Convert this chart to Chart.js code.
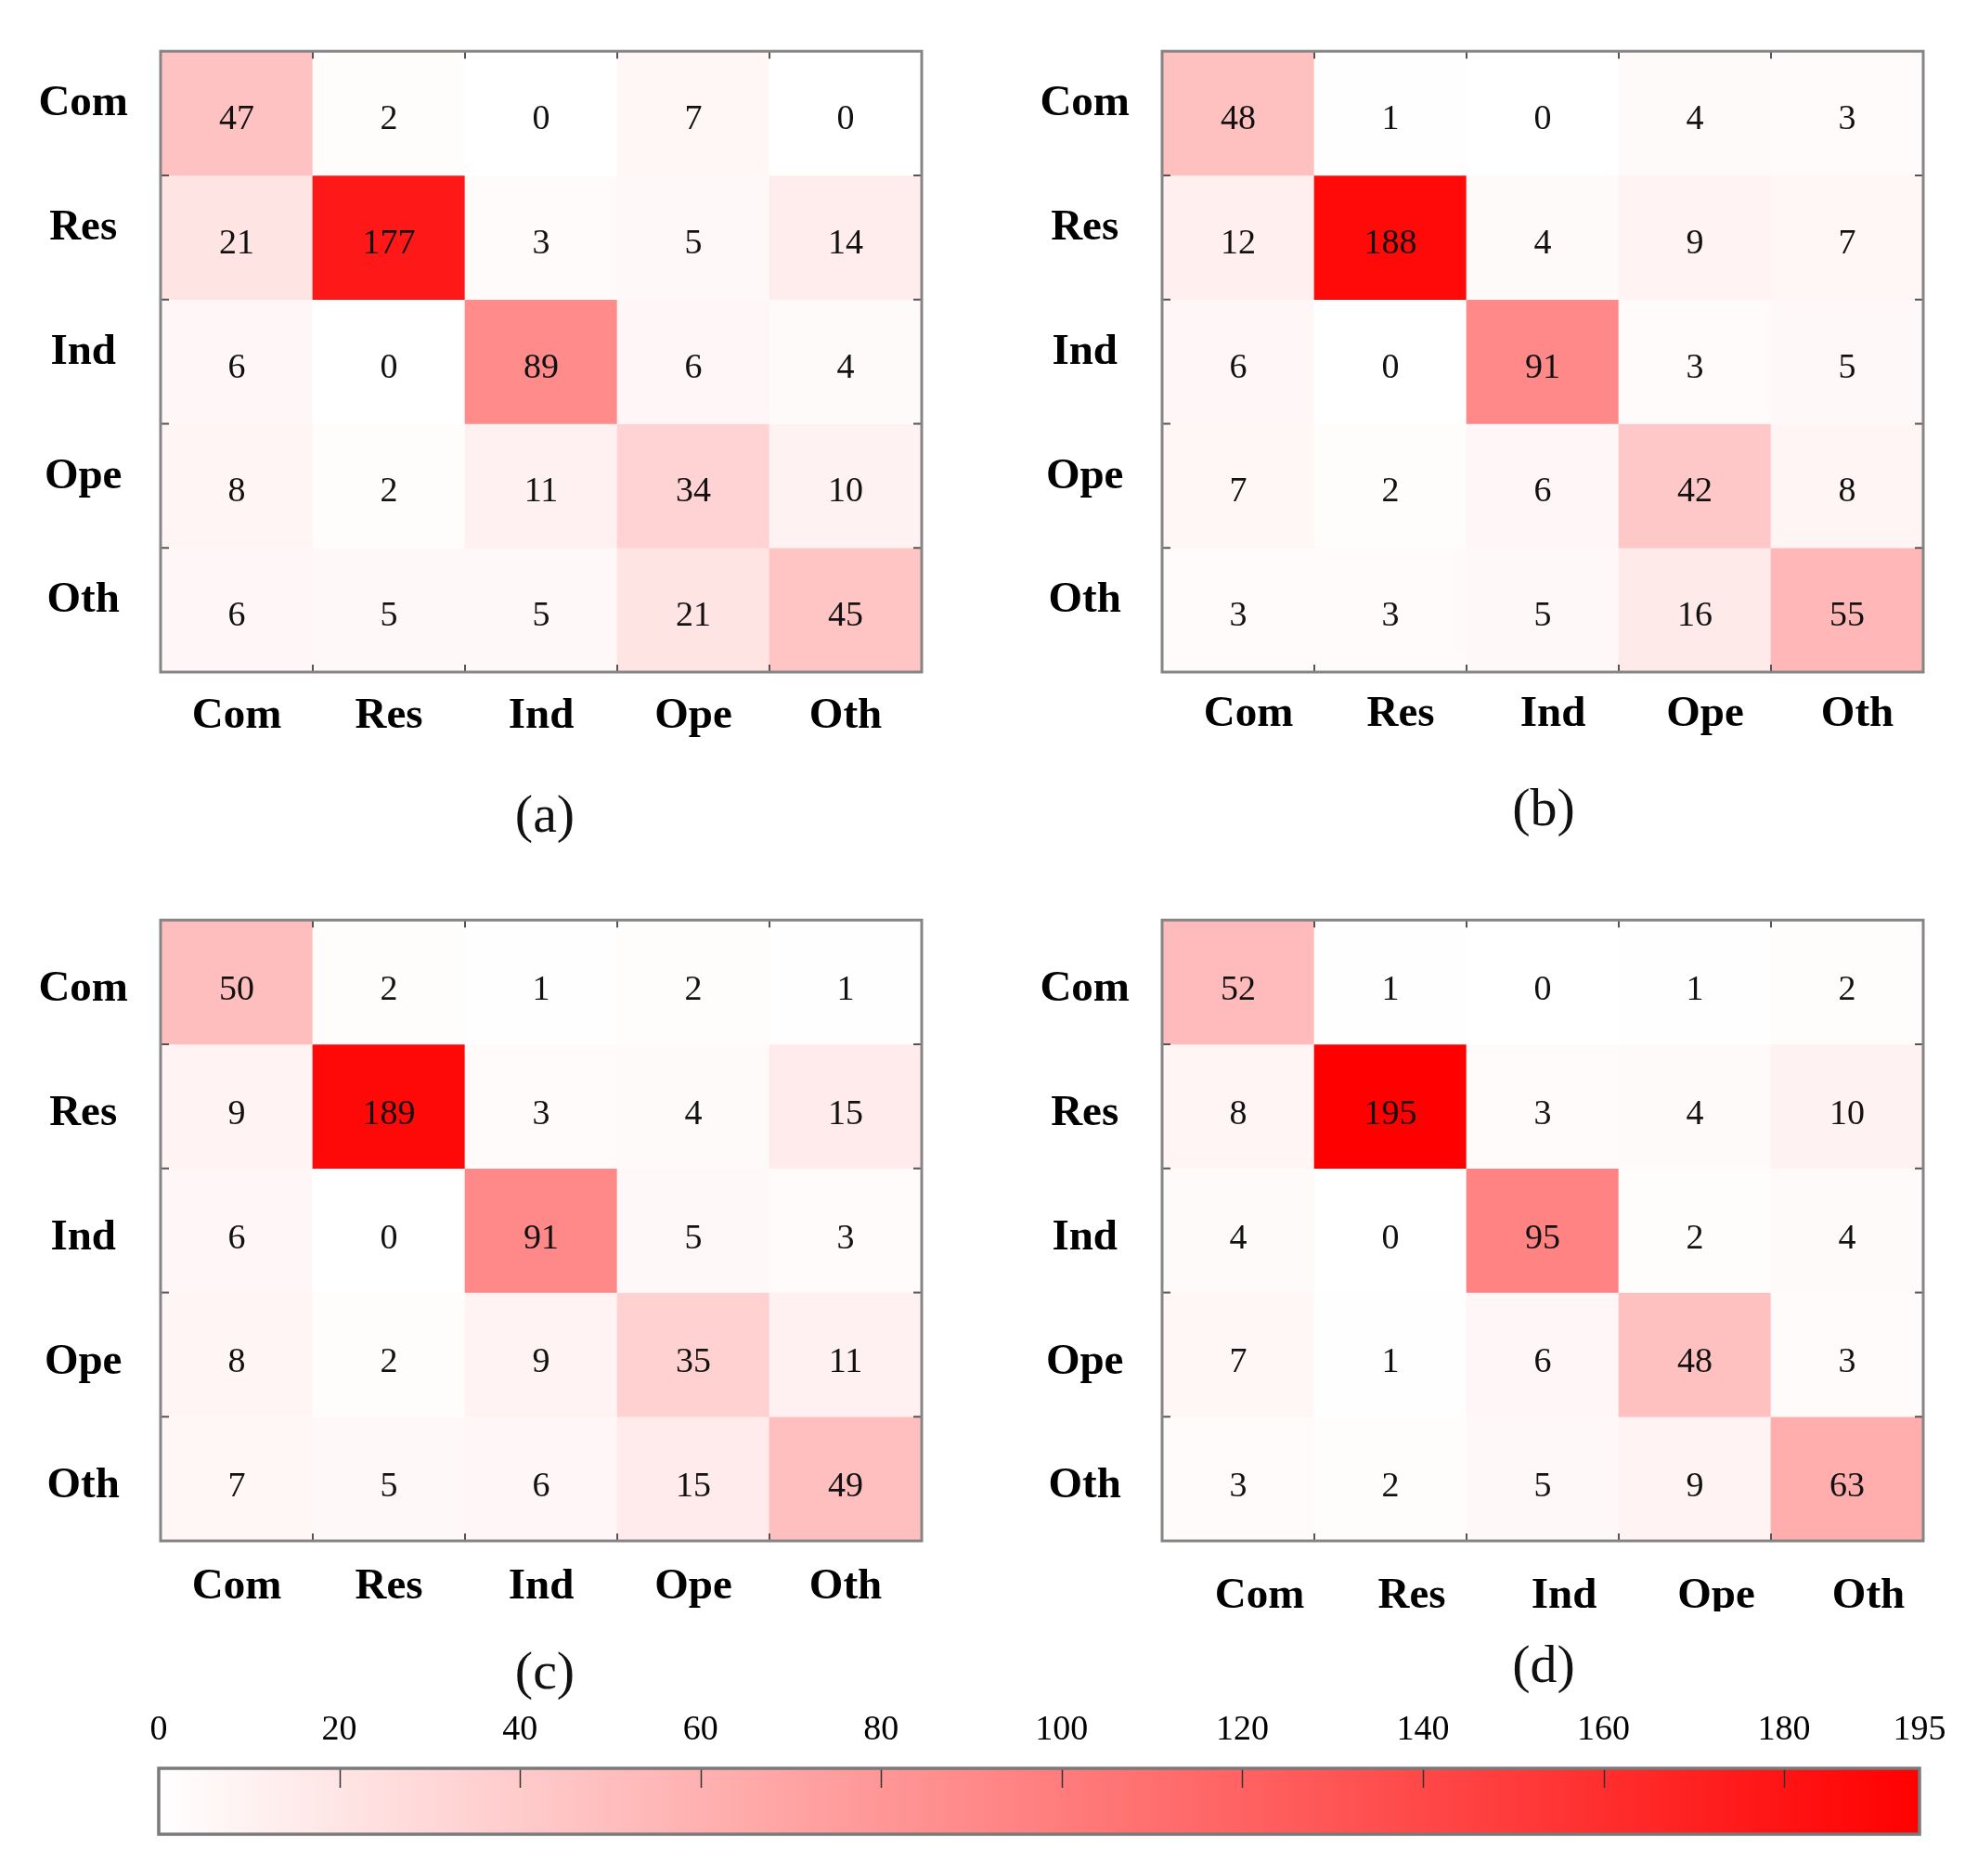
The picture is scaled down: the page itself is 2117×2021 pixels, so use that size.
<!DOCTYPE html>
<html>
<head>
<meta charset="utf-8">
<script src="https://cdn.jsdelivr.net/npm/chart.js@4.4.1/dist/chart.umd.min.js"></script>
<style>
body { margin: 0; background: #fff; width: 2117px; height: 2021px; position: relative; overflow: hidden; }
canvas { position: absolute; }
.tag { position: absolute; font-family: "Liberation Serif", serif; font-size: 58px; line-height: 1; transform: translate(-50%, -50%); color: #111; }
</style>
</head>
<body>
<canvas id="chartA" width="1030" height="800" style="left:0px;top:0px"></canvas>
<canvas id="chartB" width="1030" height="800" style="left:1079px;top:0px"></canvas>
<canvas id="chartC" width="1030" height="800" style="left:0px;top:936px"></canvas>
<canvas id="chartD" width="1030" height="800" style="left:1079px;top:936px"></canvas>
<canvas id="colorbar" width="2117" height="200" style="left:0px;top:1820px"></canvas>
<div class="tag" style="left:587px;top:877px">(a)</div>
<div class="tag" style="left:1663px;top:870px">(b)</div>
<div class="tag" style="left:587px;top:1800px">(c)</div>
<div class="tag" style="left:1663px;top:1793px">(d)</div>
<script>
var classLabels = ["Com", "Res", "Ind", "Ope", "Oth"];

// rows = true class (top to bottom), columns = predicted (left to right)
var matrixA = [
    [47, 2, 0, 7, 0],
    [21, 177, 3, 5, 14],
    [6, 0, 89, 6, 4],
    [8, 2, 11, 34, 10],
    [6, 5, 5, 21, 45]
];
var matrixB = [
    [48, 1, 0, 4, 3],
    [12, 188, 4, 9, 7],
    [6, 0, 91, 3, 5],
    [7, 2, 6, 42, 8],
    [3, 3, 5, 16, 55]
];
var matrixC = [
    [50, 2, 1, 2, 1],
    [9, 189, 3, 4, 15],
    [6, 0, 91, 5, 3],
    [8, 2, 9, 35, 11],
    [7, 5, 6, 15, 49]
];
var matrixD = [
    [52, 1, 0, 1, 2],
    [8, 195, 3, 4, 10],
    [4, 0, 95, 2, 4],
    [7, 1, 6, 48, 3],
    [3, 2, 5, 9, 63]
];

var scaleMax = 195;
var scaleTicks = [0, 20, 40, 60, 80, 100, 120, 140, 160, 180, 195];

var serif = "'Liberation Serif', 'Times New Roman', serif";

function cellColor(v) {
    var g = Math.round(255 * (1 - v / scaleMax));
    return "rgb(255," + g + "," + g + ")";
}

//numbers in the cells, frame and the little inner ticks
var heatPlugin = {
    id: "heatCells",
    afterDatasetsDraw: function (chart) {
        var ctx = chart.ctx,
            area = chart.chartArea,
            xs = chart.scales.x,
            ys = chart.scales.y,
            shift = chart.options.numShift || 7;
        ctx.save();
        ctx.fillStyle = "#111";
        ctx.font = "38px " + serif;
        ctx.textAlign = "center";
        ctx.textBaseline = "middle";
        chart.data.datasets.forEach(function (ds, r) {
            chart.getDatasetMeta(r).data.forEach(function (bar, c) {
                ctx.fillText(String(ds.values[c]), bar.x, (bar.y + bar.base) / 2 + shift);
            });
        });

        ctx.strokeStyle = "#555";
        ctx.lineWidth = 2;
        for (var i = 1; i < classLabels.length; i++) {
            var bx = (xs.getPixelForValue(i - 1) + xs.getPixelForValue(i)) / 2;
            var by = ys.getPixelForValue(i);
            ctx.beginPath();
            ctx.moveTo(bx, area.top); ctx.lineTo(bx, area.top + 8);
            ctx.moveTo(bx, area.bottom); ctx.lineTo(bx, area.bottom - 8);
            ctx.moveTo(area.left, by); ctx.lineTo(area.left + 9, by);
            ctx.moveTo(area.right, by); ctx.lineTo(area.right - 9, by);
            ctx.stroke();
        }
        ctx.strokeStyle = "#858585";
        ctx.lineWidth = 3;
        ctx.strokeRect(area.left, area.top, area.right - area.left, area.bottom - area.top);
        ctx.restore();
    }
};

function drawHeatmap(id, matrix, opts) {
    var datasets = [];
    for (var r = 0; r < matrix.length; r++) {
        datasets.push({
            label: classLabels[r],
            data: matrix[r].map(function () { return [r, r + 1]; }),
            values: matrix[r],
            backgroundColor: matrix[r].map(cellColor),
            borderWidth: 0,
            barPercentage: 1,
            categoryPercentage: 1,
            grouped: false
        });
    }
    return new Chart(document.getElementById(id), {
        type: "bar",
        data: { labels: classLabels, datasets: datasets },
        options: {
            responsive: false,
            animation: false,
            devicePixelRatio: 1,
            numShift: opts.numShift,
            layout: { padding: { top: 49, right: 37, left: 0, bottom: 0 } },
            plugins: { legend: { display: false }, tooltip: { enabled: false } },
            scales: {
                x: {
                    type: "category",
                    position: "bottom",
                    grid: { display: false },
                    border: { display: false },
                    ticks: {
                        color: "#000",
                        font: { family: serif, size: 47, weight: "bold" },
                        padding: opts.xPad,
                        labelOffset: opts.xShift,
                        maxRotation: 0,
                        autoSkip: false
                    },
                    afterFit: function (s) { s.height = 76; }
                },
                y: {
                    type: "linear",
                    min: 0,
                    max: 5,
                    reverse: true,
                    grid: { display: false },
                    border: { display: false },
                    afterBuildTicks: function (s) {
                        s.ticks = [0.5, 1.5, 2.5, 3.5, 4.5].map(function (v) { return { value: v }; });
                    },
                    ticks: {
                        color: "#000",
                        font: { family: serif, size: 47, weight: "bold" },
                        padding: 27,
                        crossAlign: "center",
                        labelOffset: opts.yShift,
                        callback: function (v) { return classLabels[Math.floor(v)]; }
                    },
                    afterFit: function (s) { s.width = 173; }
                }
            }
        },
        plugins: [heatPlugin]
    });
}

drawHeatmap("chartA", matrixA, { xPad: 12, xShift: 0, yShift: -10, numShift: 7 });
drawHeatmap("chartB", matrixB, { xPad: 10, xShift: 11, yShift: -10, numShift: 7 });
drawHeatmap("chartC", matrixC, { xPad: 14, xShift: 0, yShift: 8, numShift: 9 });
drawHeatmap("chartD", matrixD, { xPad: 24, xShift: 23, yShift: 8, numShift: 9 });

//colour bar
var barPlugin = {
    id: "barFrame",
    afterDatasetsDraw: function (chart) {
        var ctx = chart.ctx,
            area = chart.chartArea,
            xs = chart.scales.x;
        ctx.save();
        ctx.strokeStyle = "#333";
        ctx.lineWidth = 1.5;
        scaleTicks.forEach(function (v) {
            if (v === 0 || v === scaleMax) return;
            var px = Math.round(xs.getPixelForValue(v)) + 0.5;
            ctx.beginPath();
            ctx.moveTo(px, area.top);
            ctx.lineTo(px, area.top + 21);
            ctx.stroke();
        });
        ctx.strokeStyle = "#7a7a7a";
        ctx.lineWidth = 3.5;
        ctx.strokeRect(area.left, area.top, area.right - area.left, area.bottom - area.top);
        ctx.restore();
    }
};

new Chart(document.getElementById("colorbar"), {
    type: "bar",
    data: {
        labels: [""],
        datasets: [{
            data: [[0, scaleMax]],
            backgroundColor: function (context) {
                var chart = context.chart;
                if (!chart.chartArea) return "#f88";
                var xs = chart.scales.x;
                var g = chart.ctx.createLinearGradient(xs.getPixelForValue(0), 0, xs.getPixelForValue(scaleMax), 0);
                g.addColorStop(0, cellColor(0));
                g.addColorStop(1, cellColor(scaleMax));
                return g;
            },
            borderWidth: 0,
            barPercentage: 1,
            categoryPercentage: 1
        }]
    },
    options: {
        indexAxis: "y",
        responsive: false,
        animation: false,
        devicePixelRatio: 1,
        layout: { padding: { left: 171, right: 49, top: 0, bottom: 44 } },
        plugins: { legend: { display: false }, tooltip: { enabled: false } },
        scales: {
            x: {
                type: "linear",
                position: "top",
                min: 0,
                max: scaleMax,
                grid: { display: false },
                border: { display: false },
                afterBuildTicks: function (s) {
                    s.ticks = scaleTicks.map(function (v) { return { value: v }; });
                },
                ticks: {
                    color: "#000",
                    font: { family: serif, size: 38 },
                    padding: 10,
                    maxRotation: 0,
                    autoSkip: false
                },
                afterFit: function (s) { s.height = 85; }
            },
            y: { display: false }
        }
    },
    plugins: [barPlugin]
});
</script>
</body>
</html>
